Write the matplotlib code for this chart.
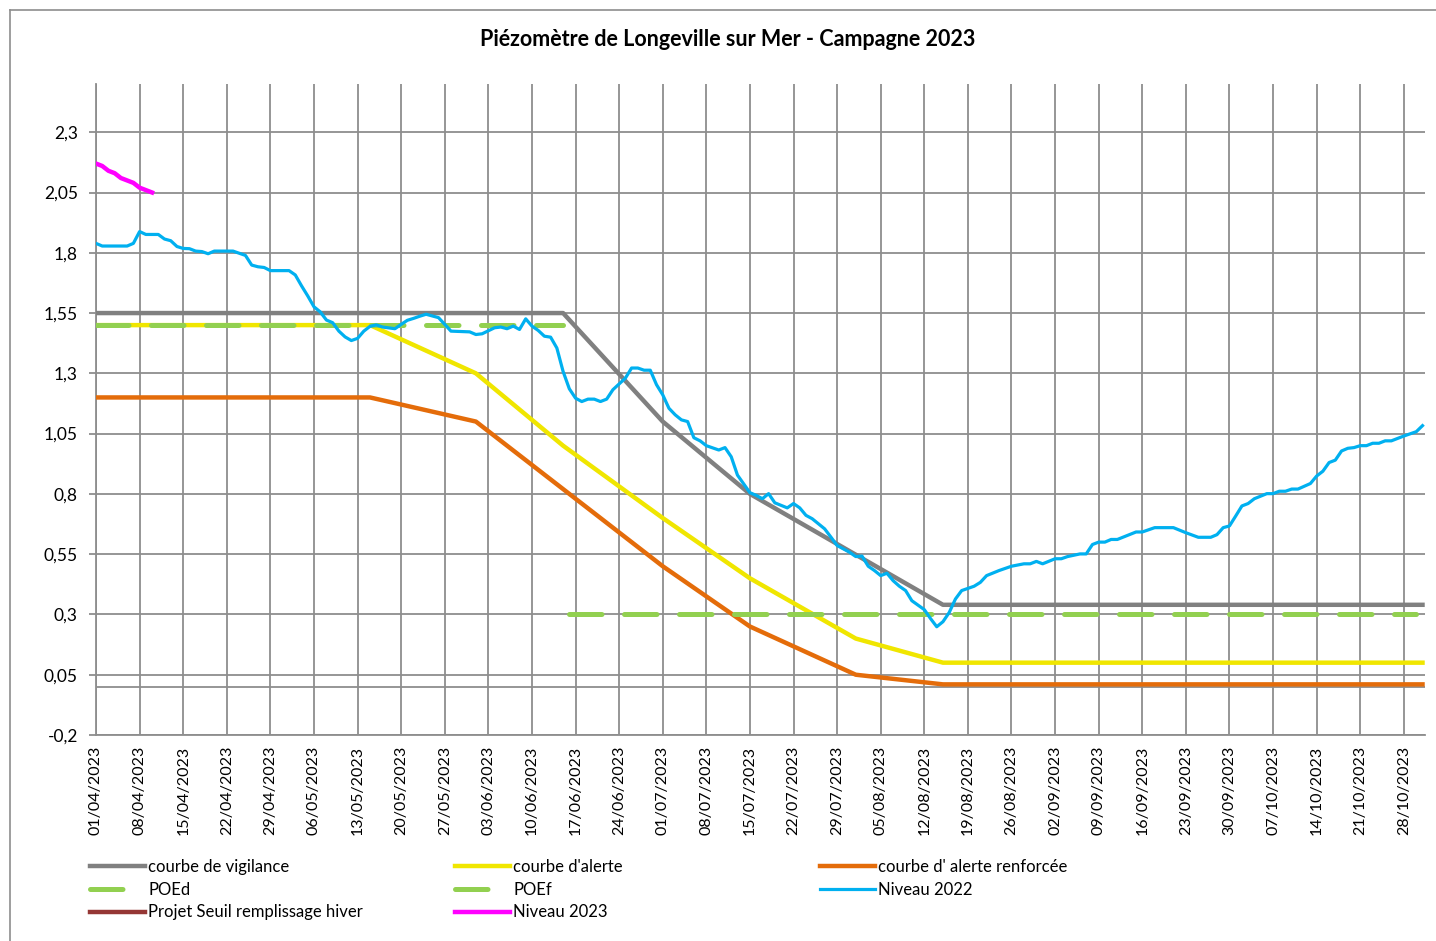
import matplotlib
matplotlib.use("Agg")
import matplotlib.pyplot as plt
import matplotlib.dates as mdates
from matplotlib.lines import Line2D
from matplotlib.ticker import FuncFormatter
import numpy as np
import pandas as pd

plt.rcParams["font.family"] = ["Lato", "DejaVu Sans"]

start = pd.Timestamp("2023-04-01")

# day offsets from 01/04/2023 and levels (m)
vig_days = [0, 75, 91, 105, 136, 213]
vig_vals = [1.55, 1.55, 1.1, 0.8, 0.34, 0.34]

alert_days = [0, 44, 61, 75, 91, 105, 122, 136, 213]
alert_vals = [1.5, 1.5, 1.3, 1.0, 0.7, 0.45, 0.2, 0.1, 0.1]

renf_days = [0, 44, 61, 91, 105, 122, 136, 213]
renf_vals = [1.2, 1.2, 1.1, 0.5, 0.25, 0.05, 0.01, 0.01]

poed_days = [0, 75]
poed_vals = [1.5, 1.5]

poef_days = [76, 212]
poef_vals = [0.3, 0.3]

n2023_days = [0, 1, 2, 3, 4, 5, 6, 7, 8, 9]
n2023_vals = [2.17, 2.16, 2.14, 2.13, 2.11, 2.10, 2.09, 2.07, 2.06, 2.05]

n2022_days = [0, 1, 5, 6, 7, 8, 10, 11, 12, 13, 14, 15, 16, 17, 18, 19, 22, 24, 25, 26,
              27, 28, 31, 32, 33, 34, 35, 36, 37, 38, 39, 40, 41, 42, 43, 44, 45, 46, 48, 49,
              50, 51, 52, 53, 55, 56, 57, 60, 61, 62, 64, 65, 66, 67, 68, 69, 70, 71, 72, 73,
              74, 75, 76, 77, 78, 79, 80, 81, 82, 83, 85, 86, 87, 88, 89, 90, 91, 92, 93, 94,
              95, 96, 97, 98, 100, 101, 102, 103, 105, 106, 107, 108, 109, 111, 112, 113, 114, 115, 117, 118,
              119, 121, 122, 123, 124, 125, 126, 127, 128, 129, 130, 131, 133, 134, 135, 136, 137, 138, 139, 141,
              142, 143, 145, 147, 149, 150, 151, 152, 154, 155, 156, 158, 159, 160, 161, 162, 163, 164, 167, 168,
              170, 173, 175, 177, 179, 180, 181, 182, 183, 184, 185, 186, 188, 189, 190, 191, 192, 193, 195, 196,
              197, 198, 199, 200, 201, 202, 203, 204, 205, 206, 207, 208, 210, 212, 213]
n2022_vals = [1.839, 1.828, 1.828, 1.839, 1.888, 1.876, 1.876, 1.857, 1.85, 1.826, 1.818, 1.817, 1.807, 1.805, 1.796, 1.807, 1.807, 1.789, 1.749, 1.742,
              1.739, 1.726, 1.726, 1.708, 1.663, 1.621, 1.576, 1.555, 1.521, 1.51, 1.475, 1.451, 1.436, 1.445, 1.475, 1.495, 1.501, 1.492, 1.485, 1.503,
              1.52, 1.528, 1.537, 1.545, 1.531, 1.503, 1.475, 1.472, 1.461, 1.464, 1.489, 1.492, 1.485, 1.496, 1.482, 1.526, 1.496, 1.478, 1.454, 1.45,
              1.405, 1.308, 1.236, 1.197, 1.183, 1.193, 1.193, 1.183, 1.193, 1.232, 1.28, 1.322, 1.322, 1.313, 1.313, 1.253, 1.211, 1.155, 1.128, 1.107,
              1.1, 1.033, 1.02, 1.0, 0.982, 0.992, 0.954, 0.878, 0.805, 0.794, 0.78, 0.801, 0.763, 0.742, 0.76, 0.742, 0.711, 0.697, 0.655, 0.621,
              0.586, 0.558, 0.54, 0.542, 0.5, 0.482, 0.461, 0.471, 0.44, 0.417, 0.399, 0.357, 0.32, 0.283, 0.249, 0.27, 0.308, 0.364, 0.399, 0.417,
              0.433, 0.461, 0.482, 0.5, 0.51, 0.51, 0.52, 0.51, 0.531, 0.531, 0.54, 0.551, 0.551, 0.59, 0.6, 0.6, 0.611, 0.611, 0.642, 0.642,
              0.66, 0.66, 0.639, 0.62, 0.62, 0.631, 0.66, 0.667, 0.708, 0.75, 0.76, 0.78, 0.801, 0.801, 0.811, 0.811, 0.82, 0.82, 0.843, 0.874,
              0.894, 0.93, 0.94, 0.978, 0.989, 0.992, 1.0, 1.0, 1.01, 1.01, 1.02, 1.02, 1.04, 1.058, 1.083]

y_ticks = [-0.2, 0.05, 0.3, 0.55, 0.8, 1.05, 1.3, 1.55, 1.8, 2.05, 2.3]


def to_dates(days):
    return start + pd.to_timedelta(days, unit="D")


fig = plt.figure(figsize=(14.36, 9.41), dpi=100)
ax = fig.add_axes([96 / 1436, 1 - 735 / 941, (1425 - 96) / 1436, (735 - 84) / 941])

grid_col = "#8E8E8E"
ax.axhline(0, color=grid_col, lw=1.3, zorder=1)

l_vig, = ax.plot(to_dates(vig_days), vig_vals, color="#808080", lw=3.2, label="courbe de vigilance", zorder=3)
l_alert, = ax.plot(to_dates(alert_days), alert_vals, color="#F0E600", lw=3.2, label="courbe d'alerte", zorder=3)
l_renf, = ax.plot(to_dates(renf_days), renf_vals, color="#E46C0A", lw=3.2, label="courbe d' alerte renforcée", zorder=3)
l_poed, = ax.plot(to_dates(poed_days), poed_vals, color="#92D050", lw=3.6, dashes=(6.5, 4.5),
                  dash_capstyle="round", label="POEd", zorder=4)
l_poef, = ax.plot(to_dates(poef_days), poef_vals, color="#92D050", lw=3.6, dashes=(6.5, 4.5),
                  dash_capstyle="round", label="POEf", zorder=4)
l_n22, = ax.plot(to_dates(n2022_days), n2022_vals, color="#00B0F0", lw=2.3, label="Niveau 2022", zorder=5)
l_proj, = ax.plot([], [], color="#953735", lw=3.2, label="Projet Seuil remplissage hiver")
l_n23, = ax.plot(to_dates(n2023_days), n2023_vals, color="#FF00FF", lw=3.2, label="Niveau 2023", zorder=6)

ax.set_xlim(start, start + pd.Timedelta(days=213.4))
ax.set_ylim(-0.2, 2.5)
ax.set_yticks(y_ticks)
ax.yaxis.set_major_formatter(FuncFormatter(lambda v, p: f"{round(v, 2):g}".replace(".", ",")))
ax.set_xticks(pd.date_range(start, periods=31, freq="7D"))
ax.xaxis.set_major_formatter(mdates.DateFormatter("%d/%m/%Y"))
plt.setp(ax.get_xticklabels(), rotation=90)

ax.grid(True, color=grid_col, lw=1.3)
ax.set_axisbelow(True)
for s in ["top", "right"]:
    ax.spines[s].set_visible(False)
for s in ["left", "bottom"]:
    ax.spines[s].set_color(grid_col)
    ax.spines[s].set_linewidth(1.3)
ax.tick_params(axis="y", length=5, color=grid_col, width=1.3, labelsize=12.5, pad=8)
ax.tick_params(axis="x", length=0, labelsize=11.5, pad=8)

fig.text(728 / 1436, 1 - 40 / 941, "Piézomètre de Longeville sur Mer - Campagne 2023",
         fontsize=15.5, fontweight="bold", ha="center", va="center")

# legend, three columns placed side by side
cols = [[l_vig, l_poed, l_proj], [l_alert, l_poef, l_n23], [l_renf, l_n22]]
xs = [90, 455, 820]
for hs, x in zip(cols, xs):
    fig.legend(handles=hs, labels=[h.get_label() for h in hs], loc="upper left",
               bbox_to_anchor=(x / 1436, 1 - 859 / 941), frameon=False, fontsize=12,
               handlelength=3.3, handletextpad=0.2, labelspacing=0.4, borderpad=0, borderaxespad=0)

# chart frame
fig.add_artist(Line2D([10 / 1436, 10 / 1436], [0, 1 - 10 / 941], color="#8E8E8E", lw=1.2))
fig.add_artist(Line2D([10 / 1436, 1], [1 - 10 / 941, 1 - 10 / 941], color="#8E8E8E", lw=1.2))

fig.savefig("out.png", dpi=100)
